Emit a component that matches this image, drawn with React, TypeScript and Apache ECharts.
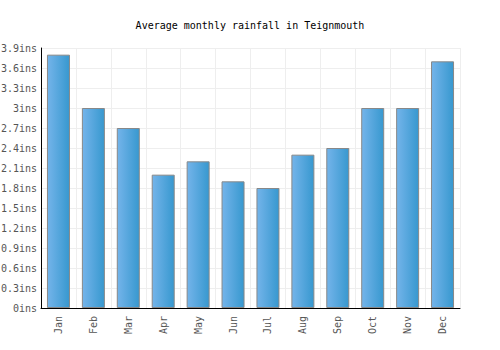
import React, { useEffect, useRef } from "react";
import * as echarts from "echarts";

const months = ["Jan", "Feb", "Mar", "Apr", "May", "Jun", "Jul", "Aug", "Sep", "Oct", "Nov", "Dec"];
const rainfall = [3.8, 3.0, 2.7, 2.0, 2.2, 1.9, 1.8, 2.3, 2.4, 3.0, 3.0, 3.7];
const titleText = "Average monthly rainfall in Teignmouth";

export default function App() {
  const ref = useRef<HTMLDivElement>(null);
  useEffect(() => {
    if (!ref.current) return;
    const chart = echarts.init(ref.current, undefined, { renderer: "svg" });
    const font = "'DejaVu Sans Mono', monospace";
    chart.setOption({
      animation: false,
      backgroundColor: "#fff",
      title: {
        text: titleText,
        left: "center",
        top: 15,
        textStyle: { fontFamily: font, fontSize: 10, fontWeight: "normal", color: "#000" },
      },
      grid: { left: 41, right: 40, top: 48, bottom: 42, outerBoundsMode: "none", containLabel: false },
      xAxis: {
        type: "category",
        data: months,
        axisLine: { lineStyle: { color: "#000", width: 1 } },
        axisTick: { show: false },
        splitLine: { show: true, lineStyle: { color: "#eeeeee" } },
        axisLabel: { rotate: 90, fontFamily: font, fontSize: 10, color: "#555", margin: 8 },
      },
      yAxis: {
        type: "value",
        min: 0,
        max: 3.9,
        interval: 0.3,
        axisLine: { show: true, lineStyle: { color: "#000", width: 1 } },
        axisTick: { show: false },
        splitLine: { show: true, lineStyle: { color: "#eeeeee" } },
        axisLabel: {
          fontFamily: font,
          fontSize: 10,
          color: "#555",
          margin: 4,
          formatter: (v: number) => `${Math.round(v * 10) / 10}ins`,
        },
      },
      series: [
        {
          type: "bar",
          data: rainfall,
          barWidth: 23,
          itemStyle: {
            color: new echarts.graphic.LinearGradient(0, 0, 1, 0, [
              { offset: 0, color: "#74b4ea" },
              { offset: 1, color: "#3798cf" },
            ]),
            borderColor: "#888",
            borderWidth: 1,
          },
        },
      ],
    });
    return () => chart.dispose();
  }, []);
  return <div ref={ref} style={{ width: 500, height: 350, position: "absolute", left: 0, top: 0 }} />;
}
